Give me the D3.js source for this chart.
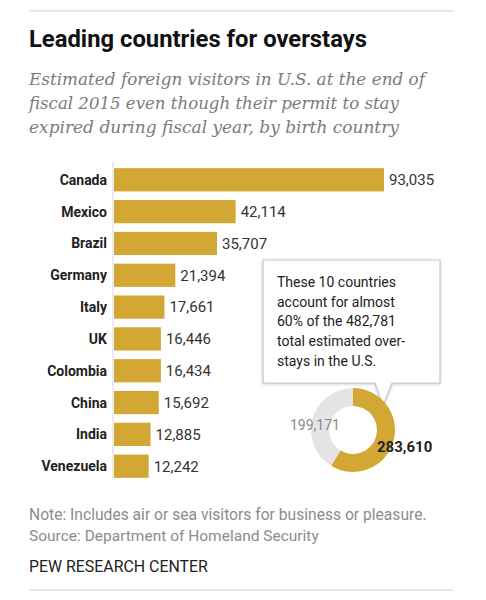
<!DOCTYPE html>
<html><head><meta charset="utf-8">
<script src="https://cdn.jsdelivr.net/npm/d3@7"></script>
<style>
body{margin:0;background:#fff;}
svg{display:block;}
</style></head>
<body>
<svg id="c" width="486" height="600"></svg>
<script>
const countries = ["Canada","Mexico","Brazil","Germany","Italy","UK","Colombia","China","India","Venezuela"];
const overstays = [93035,42114,35707,21394,17661,16446,16434,15692,12885,12242];
const donutLabels = ["Top 10 countries","Other countries"];
const donutValues = [283610,199171];
const calloutLines = ["These 10 countries","account for almost","60% of the 482,781","total estimated over-","stays in the U.S."];
const title = "Leading countries for overstays";
const subtitleLines = ["Estimated foreign visitors in U.S. at the end of","fiscal 2015 even though their permit to stay","expired during fiscal year, by birth country"];
const noteLines = ["Note: Includes air or sea visitors for business or pleasure.","Source: Department of Homeland Security"];
const credit = "PEW RESEARCH CENTER";

const gold = "#d3a733", grey = "#e4e4e4";
const svg = d3.select("#c");
const fmt = d3.format(",");

function fit(sel, w){
  const n = sel.node(); const L = n.getComputedTextLength();
  const fs = parseFloat(sel.attr("font-size"));
  sel.attr("font-size", (fs*w/L).toFixed(2));
}

// rules
svg.append("line").attr("x1",29).attr("x2",453).attr("y1",11).attr("y2",11).attr("stroke","#cfcfcf").attr("stroke-width",1);
svg.append("line").attr("x1",29).attr("x2",453).attr("y1",590).attr("y2",590).attr("stroke","#cfcfcf").attr("stroke-width",1);

// title
const t = svg.append("text").attr("x",29).attr("y",47).attr("font-family","Roboto, 'Noto Sans', sans-serif")
  .attr("font-weight",700).attr("font-size",21).attr("fill","#111").text(title);
fit(t, 338);

subtitleLines.forEach((s,i)=>{
  const st = svg.append("text").attr("x",29).attr("y",85+i*24).attr("font-family","'DejaVu Serif', Georgia, serif")
    .attr("font-style","italic").attr("font-size",16).attr("fill","#7b7b7b").text(s);
  fit(st, [396,370,370][i]);
});

// bars
const x = d3.scaleLinear().domain([0, d3.max(overstays)]).range([113, 384]);
const y = d3.scaleBand().domain(countries).range([165, 481]).paddingInner(0.27).paddingOuter(0.1);

svg.append("line").attr("x1",113).attr("x2",113).attr("y1",162).attr("y2",479).attr("stroke","#d8d8d8");

const g = svg.append("g");
g.selectAll("rect").data(countries).join("rect")
  .attr("x", x(0)+1).attr("y", d=>y(d)).attr("height", y.bandwidth())
  .attr("width", (d,i)=>x(overstays[i])-x(0)-1).attr("fill", gold);

g.selectAll("text.cat").data(countries).join("text").attr("class","cat")
  .attr("x",107).attr("y", d=>y(d)+y.bandwidth()/2).attr("dy","0.36em")
  .attr("text-anchor","end").attr("font-family","Roboto, 'Noto Sans', sans-serif")
  .attr("font-weight",700).attr("font-size",14).attr("fill","#222").text(d=>d);

g.selectAll("text.val").data(countries).join("text").attr("class","val")
  .attr("x",(d,i)=>x(overstays[i])+5).attr("y", d=>y(d)+y.bandwidth()/2).attr("dy","0.36em")
  .attr("font-family","Roboto, 'Noto Sans', sans-serif").attr("font-size",15).attr("fill","#333")
  .text((d,i)=>fmt(overstays[i]));

// callout
const bx=263, by=260, bw=177, bh=123;
svg.append("path")
  .attr("d",`M${bx},${by}H${bx+bw}V${by+bh}H392L383,406L375,${by+bh}H${bx}Z`)
  .attr("fill","#fff").attr("stroke","#c8c8c8").attr("stroke-width",1.2)
  .style("filter","drop-shadow(0px 1px 1.5px rgba(0,0,0,0.18))");
calloutLines.forEach((s,i)=>{
  svg.append("text").attr("x",277).attr("y",287+i*19.7).attr("font-family","Roboto, 'Noto Sans', sans-serif")
    .attr("font-size",14).attr("fill","#222").text(s);
});

// donut
const cx=353, cy=430;
const pie = d3.pie().sort(null).value(d=>d);
const arc = d3.arc().innerRadius(24).outerRadius(42);
const dg = svg.append("g").attr("transform",`translate(${cx},${cy})`);
dg.selectAll("path").data(pie(donutValues)).join("path").attr("d",arc).attr("fill",(d,i)=>i===0?gold:grey);

svg.append("text").attr("x",290).attr("y",430).attr("font-family","Roboto, 'Noto Sans', sans-serif")
  .attr("font-size",14).attr("fill","#8a8a8a").text(fmt(donutValues[1]));
svg.append("text").attr("x",377).attr("y",452).attr("font-family","Roboto, 'Noto Sans', sans-serif")
  .attr("font-size",15).attr("font-weight",700).attr("fill","#222").text(fmt(donutValues[0]));

// notes
noteLines.forEach((s,i)=>{
  const nt = svg.append("text").attr("x",29).attr("y",520+i*21).attr("font-family","Roboto, 'Noto Sans', sans-serif")
    .attr("font-size",13).attr("fill","#8c8c8c").text(s);
  fit(nt, [398,290][i]);
});
const ct = svg.append("text").attr("x",29).attr("y",572).attr("font-family","Roboto, 'Noto Sans', sans-serif")
  .attr("font-size",14).attr("fill","#222").text(credit);
fit(ct, 179);
</script>
</body></html>
